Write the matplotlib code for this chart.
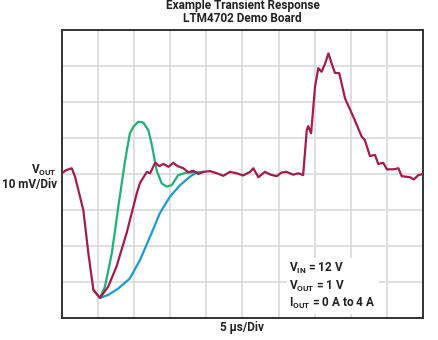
import matplotlib
matplotlib.use("Agg")
import matplotlib.pyplot as plt

# values in divisions (x: 5 us/div, y: 10 mV/div, 0 = nominal VOUT)
red_x = [0.00, 0.10, 0.27, 0.36, 0.59, 0.73, 0.87, 1.05, 1.28, 1.51, 1.79, 2.07, 2.16,
         2.35, 2.44, 2.58, 2.70, 2.81, 2.95, 3.08, 3.20, 3.36, 3.50, 3.64, 3.78, 3.91,
         4.10, 4.29, 4.47, 4.65, 4.84, 5.02, 5.21, 5.30, 5.44, 5.62, 5.78, 5.95, 6.08,
         6.22, 6.40, 6.55, 6.68, 6.78, 6.82, 6.90, 7.01, 7.10, 7.19, 7.29, 7.38, 7.47,
         7.56, 7.68, 7.84, 8.07, 8.30, 8.39, 8.53, 8.67, 8.76, 8.90, 9.00, 9.18, 9.32,
         9.41, 9.64, 9.75, 9.87, 10.0]
red_y = [0.02, 0.10, 0.16, -0.07, -1.00, -2.20, -3.22, -3.44, -3.13, -2.57, -1.64, -0.54, -0.25,
         0.06, 0.02, 0.31, 0.22, 0.28, 0.20, 0.31, 0.22, 0.16, 0.05, 0.09, 0.00, 0.06,
         0.08, 0.02, -0.05, 0.06, 0.02, -0.04, 0.06, 0.16, -0.09, 0.06, -0.02, -0.06, 0.04,
         0.06, -0.02, 0.02, -0.03, 1.22, 1.33, 1.13, 2.43, 2.94, 2.84, 3.07, 3.35, 3.07,
         2.81, 2.80, 2.10, 1.59, 1.04, 0.94, 0.50, 0.53, 0.28, 0.31, 0.13, 0.13, 0.16,
         -0.06, -0.09, -0.15, -0.03, 0.00]

green_x = [0.87, 1.05, 1.19, 1.38, 1.56, 1.75, 1.88, 1.98, 2.11, 2.25, 2.39, 2.48, 2.62,
           2.76, 2.90, 3.04, 3.22, 3.45, 3.73, 3.87]
green_y = [-3.22, -3.44, -3.13, -2.20, -0.91, 0.39, 1.13, 1.31, 1.45, 1.43, 1.22, 0.85, 0.11,
           -0.26, -0.35, -0.31, -0.03, 0.04, 0.04, 0.05]

blue_x = [1.05, 1.28, 1.56, 1.88, 2.16, 2.44, 2.71, 2.99, 3.27, 3.55, 3.73, 3.90]
blue_y = [-3.44, -3.36, -3.18, -2.90, -2.39, -1.74, -1.09, -0.63, -0.31, -0.07, 0.04, 0.06]

plt.rcParams["font.family"] = ["Roboto", "DejaVu Sans"]
plt.rcParams["font.weight"] = "bold"
plt.rcParams["mathtext.fontset"] = "custom"
plt.rcParams["mathtext.rm"] = "Roboto:bold"
plt.rcParams["mathtext.it"] = "Roboto:bold"
plt.rcParams["mathtext.bf"] = "Roboto:bold"

fig = plt.figure(figsize=(4.39, 3.40), dpi=100)
ax = fig.add_axes([62 / 439, 1 - 318 / 340, 361 / 439, 288 / 340])
ax.set_xlim(0, 10)
ax.set_ylim(-4, 4)
ax.set_xticks(range(0, 11))
ax.set_yticks(range(-4, 5))
ax.grid(True, color="#d6d6d6", linewidth=1.1)
ax.tick_params(length=0, labelbottom=False, labelleft=False)
for s in ax.spines.values():
    s.set_color("#333333")
    s.set_linewidth(1.4)

ax.plot(blue_x, blue_y, color="#1b9bd5", linewidth=1.6, zorder=3)
ax.plot(green_x, green_y, color="#22b075", linewidth=1.6, zorder=4)
ax.plot(red_x, red_y, color="#a51b4b", linewidth=1.6, zorder=5)

txt = dict(fontsize=8.5, fontweight="bold", color="#222222")
fig.text(242.5 / 439, 1 - 6 / 340, "Example Transient Response", ha="center", va="center", **txt)
fig.text(242.5 / 439, 1 - 19 / 340, "LTM4702 Demo Board", ha="center", va="center", **txt)
fig.text(57 / 439, 1 - 170 / 340, r"V$_{\mathrm{OUT}}$", ha="right", va="center", **txt)
fig.text(57 / 439, 1 - 185 / 340, "10 mV/Div", ha="right", va="center", **txt)
fig.text(242.5 / 439, 1 - 328 / 340, "5 µs/Div", ha="center", va="center", **txt)

ax.text(6.3, -2.42,
        "V$_{\\mathrm{IN}}$ = 12 V\nV$_{\\mathrm{OUT}}$ = 1 V\nI$_{\\mathrm{OUT}}$ = 0 A to 4 A",
        ha="left", va="top", linespacing=1.2, zorder=6,
        bbox=dict(facecolor="white", edgecolor="none", pad=2), **txt)

fig.savefig("out.png", dpi=100)
